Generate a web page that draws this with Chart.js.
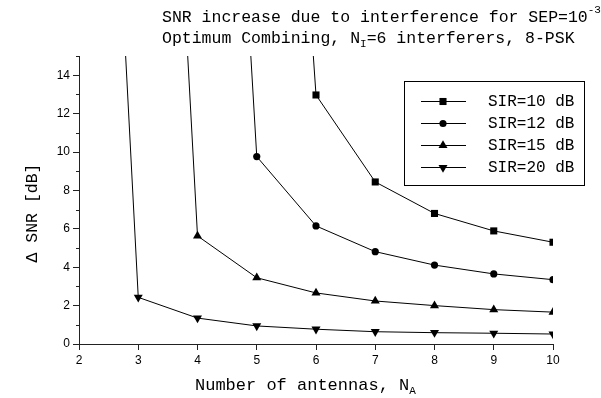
<!DOCTYPE html>
<html>
<head>
<meta charset="utf-8">
<script src="https://cdn.jsdelivr.net/npm/chart.js@4.4.0/dist/chart.umd.min.js"></script>
<style>
  html, body { margin: 0; padding: 0; background: #fff; }
</style>
</head>
<body>
<canvas id="snrChart" width="601" height="398"></canvas>
<script>
// Number of antennas for each curve (first point lies far above the plot)
const antennasSir10 = [5, 6, 7, 8, 9, 10];
const antennasSir12 = [4, 5, 6, 7, 8, 9, 10];
const antennasSir15 = [3, 4, 5, 6, 7, 8, 9, 10];
const antennasSir20 = [2, 3, 4, 5, 6, 7, 8, 9, 10];

// Delta SNR [dB]
const snrSir10 = [57.9, 12.97, 8.44, 6.8, 5.89, 5.3];
const snrSir12 = [62.2, 9.76, 6.15, 4.81, 4.11, 3.65, 3.35];
const snrSir15 = [62.3, 5.63, 3.45, 2.66, 2.24, 2.0, 1.79, 1.66];
const snrSir20 = [61.5, 2.43, 1.35, 0.94, 0.77, 0.64, 0.59, 0.56, 0.52];

const seriesLabels = ['SIR=10 dB', 'SIR=12 dB', 'SIR=15 dB', 'SIR=20 dB'];
const xTickLabels = ['2', '3', '4', '5', '6', '7', '8', '9', '10'];
const yTickLabels = ['0', '2', '4', '6', '8', '10', '12', '14'];

const MONO = "'Courier New', 'Liberation Mono', monospace";
const SANS = "Arial, 'Liberation Sans', sans-serif";

const toPoints = (xs, ys) => xs.map((x, i) => ({ x: x, y: ys[i] }));

const markers = [
    { style: 'rect', radius: 5, rotation: 0 },
    { style: 'circle', radius: 3.6, rotation: 0 },
    { style: 'triangle', radius: 5.2, rotation: 0 },
    { style: 'triangle', radius: 5.2, rotation: 180 }
];

// draw a marker by hand for the legend
function drawMarker(ctx, m, x, y) {
    ctx.beginPath();
    if (m.style === 'rect') {
        const s = m.radius * Math.SQRT1_2;
        ctx.rect(x - s, y - s, 2 * s, 2 * s);
    } else if (m.style === 'circle') {
        ctx.arc(x, y, m.radius, 0, Math.PI * 2);
    } else {
        let rad = m.rotation * Math.PI / 180;
        for (let k = 0; k < 3; k++) {
            const px = x + Math.sin(rad) * m.radius;
            const py = y - Math.cos(rad) * m.radius;
            if (k === 0) ctx.moveTo(px, py); else ctx.lineTo(px, py);
            rad += Math.PI * 2 / 3;
        }
        ctx.closePath();
    }
    ctx.fill();
}

// text with a small raised/lowered part
function drawRich(ctx, parts, x, y, size) {
    let cx = x;
    parts.forEach(p => {
        ctx.font = (p.small ? 11 : size) + 'px ' + MONO;
        ctx.fillText(p.t, cx, y + (p.dy || 0));
        cx += ctx.measureText(p.t).width;
    });
}

const annotations = {
    id: 'annotations',
    afterDraw(chart) {
        const ctx = chart.ctx;
        const y = chart.scales.y;
        ctx.save();
        ctx.fillStyle = '#000';
        ctx.strokeStyle = '#222';
        ctx.lineWidth = 1;

        // minor ticks on the y axis
        for (let v = 1; v <= 15; v += 2) {
            const py = Math.round(y.getPixelForValue(v)) + 0.5;
            ctx.beginPath();
            ctx.moveTo(y.right - 3, py);
            ctx.lineTo(y.right, py);
            ctx.stroke();
        }

        // title
        ctx.textBaseline = 'alphabetic';
        ctx.textAlign = 'left';
        drawRich(ctx, [
            { t: 'SNR increase due to interference for SEP=10' },
            { t: '-3', small: true, dy: -9 }
        ], 162, 22, 16.5);
        drawRich(ctx, [
            { t: 'Optimum Combining, N' },
            { t: 'I', small: true, dy: 4 },
            { t: '=6 interferers, 8-PSK' }
        ], 162, 43, 16.5);

        // x axis title
        drawRich(ctx, [
            { t: 'Number of antennas, N' },
            { t: 'A', small: true, dy: 4 }
        ], 195, 390, 17);

        // y axis title
        ctx.save();
        ctx.translate(33, 213);
        ctx.rotate(-Math.PI / 2);
        ctx.textAlign = 'center';
        ctx.textBaseline = 'middle';
        ctx.font = '16.5px ' + MONO;
        ctx.fillText('\u0394 SNR [dB]', 0, 0);
        ctx.restore();

        // legend
        const rows = [101, 123, 145, 167];
        ctx.strokeStyle = '#000';
        ctx.strokeRect(404.5, 81.5, 180, 104);
        ctx.font = '16px ' + MONO;
        ctx.textBaseline = 'middle';
        rows.forEach((ry, i) => {
            ctx.beginPath();
            ctx.moveTo(421, ry + 0.5);
            ctx.lineTo(466, ry + 0.5);
            ctx.stroke();
            drawMarker(ctx, markers[i], 443, ry + 0.5);
            ctx.fillText(seriesLabels[i], 488, ry + 1);
        });
        ctx.restore();
    }
};

const seriesX = [antennasSir10, antennasSir12, antennasSir15, antennasSir20];
const seriesY = [snrSir10, snrSir12, snrSir15, snrSir20];

const datasets = seriesLabels.map((label, i) => ({
    label: label,
    data: toPoints(seriesX[i], seriesY[i]),
    borderColor: '#000',
    backgroundColor: '#000',
    borderWidth: 1,
    pointStyle: markers[i].style,
    pointRadius: markers[i].radius,
    pointRotation: markers[i].rotation,
    pointBorderWidth: 0,
    tension: 0,
    clip: 0
}));

const ctx = document.getElementById('snrChart').getContext('2d');

new Chart(ctx, {
    type: 'line',
    data: { datasets: datasets },
    options: {
        responsive: false,
        animation: false,
        layout: { padding: { top: 56, right: 48, left: 0, bottom: 0 } },
        plugins: {
            legend: { display: false },
            tooltip: { enabled: false }
        },
        scales: {
            x: {
                type: 'linear',
                min: 2,
                max: 10,
                afterFit: scale => { scale.height = 54; },
                ticks: {
                    stepSize: 1,
                    color: '#000',
                    font: { family: SANS, size: 12 },
                    padding: 3,
                    maxRotation: 0,
                    callback: (v) => xTickLabels.includes(String(v)) ? String(v) : ''
                },
                grid: { drawOnChartArea: false, tickLength: 6, tickColor: '#222' },
                border: { color: '#222', width: 1 }
            },
            y: {
                min: 0,
                max: 15,
                afterFit: scale => { scale.width = 79; },
                ticks: {
                    stepSize: 1,
                    color: '#000',
                    font: { family: SANS, size: 12 },
                    padding: 3,
                    callback: (v) => yTickLabels.includes(String(v)) ? String(v) : ''
                },
                grid: {
                    drawOnChartArea: false,
                    tickLength: 6,
                    tickColor: c => (c.tick && c.tick.value % 2 === 0) ? '#222' : 'rgba(0,0,0,0)'
                },
                border: { color: '#222', width: 1 }
            }
        }
    },
    plugins: [annotations]
});
</script>
</body>
</html>
